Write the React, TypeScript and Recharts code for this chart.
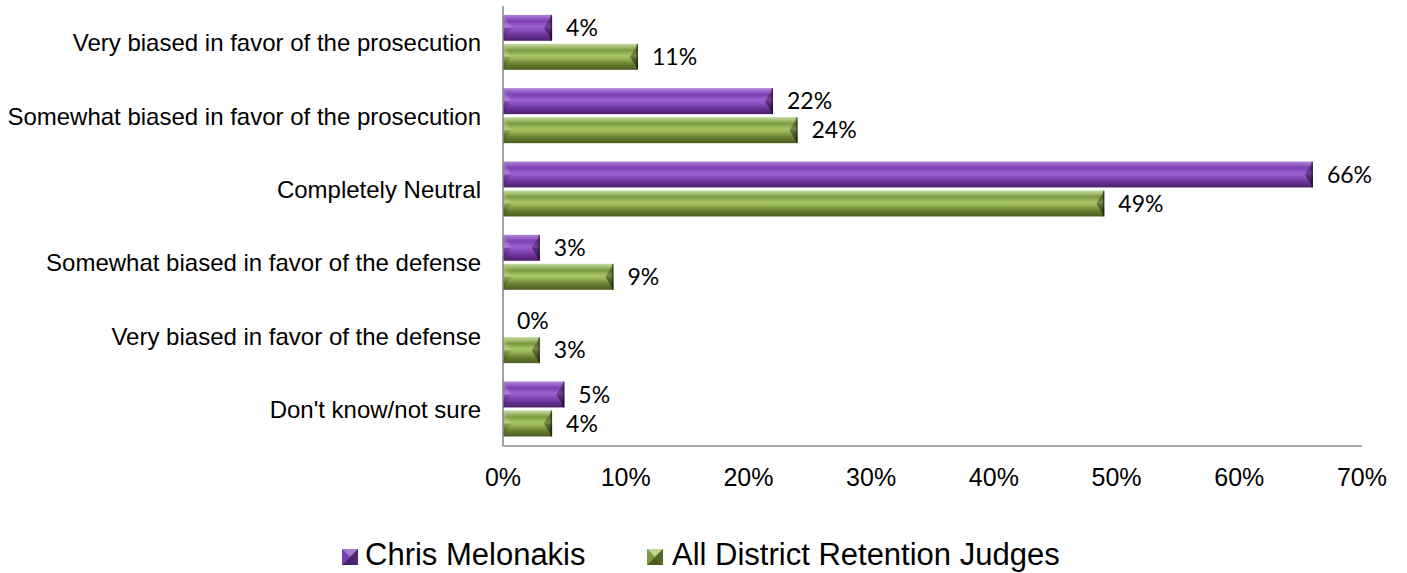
import React from 'react';
import { BarChart, Bar, XAxis, YAxis, LabelList, Legend } from 'recharts';

const categories = [
  'Very biased in favor of the prosecution',
  'Somewhat biased in favor of the prosecution',
  'Completely Neutral',
  'Somewhat biased in favor of the defense',
  'Very biased in favor of the defense',
  "Don't know/not sure",
];
const chrisValues = [4, 22, 66, 3, 0, 5];
const allJudgesValues = [11, 24, 49, 9, 3, 4];
const xTicks = [0, 10, 20, 30, 40, 50, 60, 70];
const seriesNames = ['Chris Melonakis', 'All District Retention Judges'];

const data = categories.map((name, i) => ({
  name,
  chris: chrisValues[i],
  all: allJudgesValues[i],
}));

const makeShape = (gradId: string) => (props: any) => {
  const { x, y, width, height } = props;
  if (!width || width <= 0 || !height) return <g />;
  const b = Math.min(8, width / 2);
  const hm = y + height / 2;
  return (
    <g>
      <rect x={x} y={y} width={width} height={height} fill={`url(#${gradId})`} />
      <polygon points={`${x},${y} ${x + b},${hm} ${x},${hm}`} fill="#ffffff" fillOpacity={0.18} />
      <polygon points={`${x},${hm} ${x + b},${hm} ${x},${y + height}`} fill="#000000" fillOpacity={0.15} />
      <polygon points={`${x + width},${y} ${x + width - b},${hm} ${x + width},${hm}`} fill="#000000" fillOpacity={0.3} />
      <polygon points={`${x + width},${hm} ${x + width - b},${hm} ${x + width},${y + height}`} fill="#000000" fillOpacity={0.42} />
      <rect x={x + width - 1.5} y={y} width={1.5} height={height} fill="#000000" fillOpacity={0.45} />
    </g>
  );
};

const LegendIcon = ({ light, mid, dark }: { light: string; mid: string; dark: string }) => (
  <svg width={16} height={16} style={{ position: 'absolute', top: 0 }}>
    <rect x={0} y={0} width={16} height={16} fill={mid} />
    <polygon points="0,0 16,0 8,8" fill={light} />
    <polygon points="0,16 16,16 8,8" fill={dark} />
    <polygon points="0,0 8,8 0,16" fill={mid} />
    <polygon points="16,0 8,8 16,16" fill={dark} fillOpacity={0.8} />
  </svg>
);

const renderLegend = () => (
  <div style={{ position: 'relative', width: 1407, height: 36, fontFamily: '"Liberation Sans", Arial, sans-serif', fontSize: 31, color: '#000' }}>
    <div style={{ position: 'absolute', left: 342, top: 12 }}>
      <LegendIcon light="#a77dd0" mid="#7a3fb0" dark="#4a2168" />
    </div>
    <div style={{ position: 'absolute', left: 365, top: 0, lineHeight: '36px', whiteSpace: 'nowrap' }}>{seriesNames[0]}</div>
    <div style={{ position: 'absolute', left: 647, top: 12 }}>
      <LegendIcon light="#bcd495" mid="#7d9a40" dark="#4a5c20" />
    </div>
    <div style={{ position: 'absolute', left: 672, top: 0, lineHeight: '36px', whiteSpace: 'nowrap' }}>{seriesNames[1]}</div>
  </div>
);

export default function App() {
  return (
    <div style={{ position: 'absolute', left: 0, top: 0, width: 1407, height: 573, background: '#fff' }}>
      <BarChart
        width={1407}
        height={573}
        data={data}
        layout="vertical"
        margin={{ top: 6, right: 45, bottom: 0, left: 0 }}
        barGap={3}
        barCategoryGap="12%"
      >
        <defs>
          <linearGradient id="gradPurple" x1="0" y1="0" x2="0" y2="1">
            <stop offset="0" stopColor="#b48ad8" />
            <stop offset="0.1" stopColor="#9a66cc" />
            <stop offset="0.25" stopColor="#7d3fb2" />
            <stop offset="0.45" stopColor="#9d60d0" />
            <stop offset="0.55" stopColor="#9354c6" />
            <stop offset="0.78" stopColor="#6a3298" />
            <stop offset="1" stopColor="#4a2168" />
          </linearGradient>
          <linearGradient id="gradGreen" x1="0" y1="0" x2="0" y2="1">
            <stop offset="0" stopColor="#c6dba2" />
            <stop offset="0.1" stopColor="#a9c47a" />
            <stop offset="0.25" stopColor="#7d9a40" />
            <stop offset="0.45" stopColor="#a8c466" />
            <stop offset="0.55" stopColor="#9dba5b" />
            <stop offset="0.78" stopColor="#667f30" />
            <stop offset="1" stopColor="#4a5c20" />
          </linearGradient>
        </defs>
        <XAxis
          type="number"
          domain={[0, 70]}
          ticks={xTicks}
          tickFormatter={(v: number) => `${v}%`}
          axisLine={{ stroke: '#868686', strokeWidth: 1.5 }}
          tickLine={false}
          tickSize={8}
          tickMargin={14}
          height={91}
          tick={{ fontSize: 25, fill: '#000', fontFamily: '"Liberation Sans", Arial, sans-serif' }}
          interval={0}
        />
        <YAxis
          type="category"
          dataKey="name"
          width={503}
          axisLine={{ stroke: '#868686', strokeWidth: 1.5 }}
          tickLine={false}
          tickSize={8}
          tickMargin={14}
          tick={{ fontSize: 24, fill: '#000', fontFamily: '"Liberation Sans", Arial, sans-serif' }}
          interval={0}
        />
        <Legend verticalAlign="bottom" content={renderLegend} wrapperStyle={{ left: 0, width: 1407, height: 36 }} />
        <Bar dataKey="chris" name={seriesNames[0]} fill="#7a3fb0" shape={makeShape('gradPurple')} isAnimationActive={false}>
          <LabelList dataKey="chris" position="right" offset={14} formatter={(v: any) => `${v}%`} style={{ fontSize: 23, fill: '#000', fontFamily: 'Lato, "Open Sans", sans-serif' }} />
        </Bar>
        <Bar dataKey="all" name={seriesNames[1]} fill="#7d9a40" shape={makeShape('gradGreen')} isAnimationActive={false}>
          <LabelList dataKey="all" position="right" offset={14} formatter={(v: any) => `${v}%`} style={{ fontSize: 23, fill: '#000', fontFamily: 'Lato, "Open Sans", sans-serif' }} />
        </Bar>
      </BarChart>
    </div>
  );
}
